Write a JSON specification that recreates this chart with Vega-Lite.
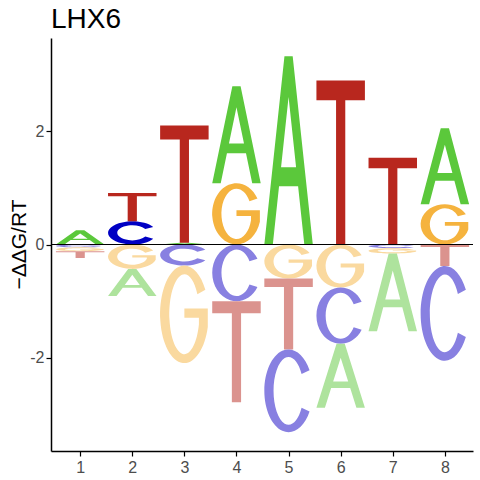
{
  "$schema": "https://vega.github.io/schema/vega-lite/v6.json",
  "width": 422,
  "height": 413,
  "autosize": {"type": "none"},
  "padding": {"left": 51, "top": 38, "right": 7, "bottom": 29},
  "title": {
    "text": "LHX6",
    "anchor": "start",
    "frame": "group",
    "font": "Liberation Sans",
    "fontSize": 28,
    "fontWeight": "normal",
    "color": "black",
    "baseline": "bottom",
    "offset": 9,
    "dy": 33
  },
  "config": {
    "view": {"stroke": null},
    "axis": {
      "grid": false,
      "domainColor": "black",
      "domainWidth": 1.5,
      "tickColor": "black",
      "tickWidth": 1.2,
      "tickSize": 5,
      "labelFont": "Liberation Sans",
      "labelFontSize": 16,
      "labelColor": "#4D4D4D",
      "titleFont": "Liberation Sans",
      "titleFontWeight": "normal",
      "titleColor": "black"
    }
  },
  "data": {
    "values": [
      {"pos": 1, "letter": "A", "ddg": 0.25, "rank": 1, "id": "1A"},
      {"pos": 1, "letter": "C", "ddg": -0.05, "rank": 1, "id": "1C"},
      {"pos": 1, "letter": "G", "ddg": -0.07, "rank": 2, "id": "1G"},
      {"pos": 1, "letter": "T", "ddg": -0.12, "rank": 3, "id": "1T"},
      {"pos": 2, "letter": "C", "ddg": 0.41, "rank": 1, "id": "2C"},
      {"pos": 2, "letter": "T", "ddg": 0.5, "rank": 2, "id": "2T"},
      {"pos": 2, "letter": "G", "ddg": -0.43, "rank": 1, "id": "2G"},
      {"pos": 2, "letter": "A", "ddg": -0.48, "rank": 2, "id": "2A"},
      {"pos": 3, "letter": "A", "ddg": 0.03, "rank": 1, "id": "3A"},
      {"pos": 3, "letter": "T", "ddg": 2.07, "rank": 2, "id": "3T"},
      {"pos": 3, "letter": "C", "ddg": -0.37, "rank": 1, "id": "3C"},
      {"pos": 3, "letter": "G", "ddg": -1.72, "rank": 2, "id": "3G"},
      {"pos": 4, "letter": "G", "ddg": 1.08, "rank": 1, "id": "4G"},
      {"pos": 4, "letter": "A", "ddg": 1.71, "rank": 2, "id": "4A"},
      {"pos": 4, "letter": "C", "ddg": -1.0, "rank": 1, "id": "4C"},
      {"pos": 4, "letter": "T", "ddg": -1.78, "rank": 2, "id": "4T"},
      {"pos": 5, "letter": "A", "ddg": 3.32, "rank": 1, "id": "5A"},
      {"pos": 5, "letter": "G", "ddg": -0.6, "rank": 1, "id": "5G"},
      {"pos": 5, "letter": "T", "ddg": -1.25, "rank": 2, "id": "5T"},
      {"pos": 5, "letter": "C", "ddg": -1.46, "rank": 3, "id": "5C"},
      {"pos": 6, "letter": "T", "ddg": 2.89, "rank": 1, "id": "6T"},
      {"pos": 6, "letter": "G", "ddg": -0.76, "rank": 1, "id": "6G"},
      {"pos": 6, "letter": "C", "ddg": -0.99, "rank": 2, "id": "6C"},
      {"pos": 6, "letter": "A", "ddg": -1.13, "rank": 3, "id": "6A"},
      {"pos": 7, "letter": "T", "ddg": 1.53, "rank": 1, "id": "7T"},
      {"pos": 7, "letter": "C", "ddg": -0.065, "rank": 1, "id": "7C"},
      {"pos": 7, "letter": "G", "ddg": -0.095, "rank": 2, "id": "7G"},
      {"pos": 7, "letter": "A", "ddg": -1.37, "rank": 3, "id": "7A"},
      {"pos": 8, "letter": "G", "ddg": 0.71, "rank": 1, "id": "8G"},
      {"pos": 8, "letter": "A", "ddg": 1.34, "rank": 2, "id": "8A"},
      {"pos": 8, "letter": "T", "ddg": -0.38, "rank": 1, "id": "8T"},
      {"pos": 8, "letter": "C", "ddg": -1.67, "rank": 2, "id": "8C"}
    ]
  },
  "layer": [
    {
      "transform": [
        {"stack": "ddg", "groupby": ["pos"], "sort": [{"field": "rank", "order": "ascending"}], "as": ["y0", "y1"]}
      ],
      "encoding": {
        "x": {
          "field": "pos",
          "type": "quantitative",
          "scale": {"domain": [0.44, 8.54], "nice": false, "zero": false},
          "axis": {"title": null, "values": [1, 2, 3, 4, 5, 6, 7, 8], "labelPadding": 3}
        },
        "y": {
          "field": "y0",
          "type": "quantitative",
          "scale": {"domain": [-3.64, 3.64], "nice": false, "zero": false},
          "axis": {
            "title": "−ΔΔG/RT",
            "titleFontSize": 21,
            "titleAngle": -90,
            "titleAlign": "center",
            "titleBaseline": "alphabetic",
            "titleX": -26,
            "titleY": 206,
            "values": [-2, 0, 2],
            "labelExpr": "'' + datum.value",
            "labelPadding": 2
          }
        },
        "shape": {
          "field": "id",
          "type": "nominal",
          "legend": null,
          "scale": {
            "domain": ["1A", "1C", "1G", "1T", "2C", "2T", "2G", "2A", "3A", "3T", "3C", "3G", "4G", "4A", "4C", "4T", "5A", "5G", "5T", "5C", "6T", "6G", "6C", "6A", "7T", "7C", "7G", "7A", "8G", "8A", "8T", "8C"],
            "range": [
              "M-1,0L-0.17,-0.585L0.17,-0.585L1,0L0.65,0L0.393,-0.181L-0.393,-0.181L-0.65,0ZM0,-0.458L-0.31,-0.24L0.31,-0.24Z",
              "M0.866,0.029A1,0.0585,0,1,0,0.866,0.088L0.537,0.075A0.62,0.032,0,1,1,0.537,0.042Z",
              "M0.866,0.041A1,0.082,0,1,0,0.966,0.103L0.966,0.072L0,0.072L0,0.088L0.6,0.088L0.6,0.093A0.62,0.045,0,1,1,0.537,0.059Z",
              "M-1,0L1,0L1,0.034L0.19,0.034L0.19,0.28L-0.19,0.28L-0.19,0.034L-1,0.034Z",
              "M0.866,-0.72A1,0.48,0,1,0,0.866,-0.24L0.537,-0.325A0.62,0.31,0,1,1,0.537,-0.635Z",
              "M-1,-1.17L1,-1.17L1,-1.03L0.19,-1.03L0.19,0L-0.19,0L-0.19,-1.03L-1,-1.03Z",
              "M0.866,0.252A1,0.503,0,1,0,0.966,0.633L0.966,0.443L0,0.443L0,0.538L0.6,0.538L0.6,0.587A0.62,0.333,0,1,1,0.537,0.337Z",
              "M-1,1.123L-0.17,0L0.17,0L1,1.123L0.65,1.123L0.393,0.775L-0.393,0.775L-0.65,1.123ZM0,0.244L-0.31,0.663L0.31,0.663Z",
              "M-1,0L-0.17,-0.07L0.17,-0.07L1,0L0.65,0L0.393,-0.022L-0.393,-0.022L-0.65,0ZM0,-0.055L-0.31,-0.029L0.31,-0.029Z",
              "M-1,-4.844L1,-4.844L1,-4.263L0.19,-4.263L0.19,0L-0.19,0L-0.19,-4.263L-1,-4.263Z",
              "M0.866,0.217A1,0.433,0,1,0,0.866,0.65L0.537,0.565A0.62,0.263,0,1,1,0.537,0.302Z",
              "M0.866,1.006A1,2.012,0,1,0,0.966,2.533L0.966,1.771L0,1.771L0,2.153L0.6,2.153L0.6,2.428A0.62,1.65,0,1,1,0.537,1.187Z",
              "M0.866,-1.896A1,1.264,0,1,0,0.966,-0.937L0.966,-1.416L0,-1.416L0,-1.176L0.6,-1.176L0.6,-1.003A0.62,1.037,0,1,1,0.537,-1.782Z",
              "M-1,0L-0.17,-4L0.17,-4L1,0L0.65,0L0.393,-1.24L-0.393,-1.24L-0.65,0ZM0,-3.132L-0.31,-1.64L0.31,-1.64Z",
              "M0.866,0.585A1,1.17,0,1,0,0.866,1.755L0.537,1.65A0.62,0.959,0,1,1,0.537,0.69Z",
              "M-1,0L1,0L1,0.5L0.19,0.5L0.19,4.166L-0.19,4.166L-0.19,0.5L-1,0.5Z",
              "M-1,0L-0.17,-7.768L0.17,-7.768L1,0L0.65,0L0.393,-2.408L-0.393,-2.408L-0.65,0ZM0,-6.082L-0.31,-3.185L0.31,-3.185Z",
              "M0.866,0.351A1,0.702,0,1,0,0.966,0.884L0.966,0.618L0,0.618L0,0.751L0.6,0.751L0.6,0.836A0.62,0.532,0,1,1,0.537,0.436Z",
              "M-1,0L1,0L1,0.351L0.19,0.351L0.19,2.925L-0.19,2.925L-0.19,0.351L-1,0.351Z",
              "M0.866,0.854A1,1.708,0,1,0,0.866,2.562L0.537,2.409A0.62,1.401,0,1,1,0.537,1.008Z",
              "M-1,-6.762L1,-6.762L1,-5.951L0.19,-5.951L0.19,0L-0.19,0L-0.19,-5.951L-1,-5.951Z",
              "M0.866,0.445A1,0.889,0,1,0,0.966,1.119L0.966,0.782L0,0.782L0,0.951L0.6,0.951L0.6,1.07A0.62,0.719,0,1,1,0.537,0.53Z",
              "M0.866,0.579A1,1.158,0,1,0,0.866,1.737L0.537,1.633A0.62,0.95,0,1,1,0.537,0.683Z",
              "M-1,2.644L-0.17,0L0.17,0L1,2.644L0.65,2.644L0.393,1.824L-0.393,1.824L-0.65,2.644ZM0,0.574L-0.31,1.56L0.31,1.56Z",
              "M-1,-3.58L1,-3.58L1,-3.15L0.19,-3.15L0.19,0L-0.19,0L-0.19,-3.15L-1,-3.15Z",
              "M0.866,0.038A1,0.076,0,1,0,0.866,0.114L0.537,0.097A0.62,0.042,0,1,1,0.537,0.055Z",
              "M0.866,0.056A1,0.111,0,1,0,0.966,0.14L0.966,0.098L0,0.098L0,0.119L0.6,0.119L0.6,0.126A0.62,0.061,0,1,1,0.537,0.081Z",
              "M-1,3.206L-0.17,0L0.17,0L1,3.206L0.65,3.206L0.393,2.212L-0.393,2.212L-0.65,3.206ZM0,0.696L-0.31,1.892L0.31,1.892Z",
              "M0.866,-1.247A1,0.831,0,1,0,0.966,-0.616L0.966,-0.931L0,-0.931L0,-0.773L0.6,-0.773L0.6,-0.664A0.62,0.661,0,1,1,0.537,-1.162Z",
              "M-1,0L-0.17,-3.136L0.17,-3.136L1,0L0.65,0L0.393,-0.972L-0.393,-0.972L-0.65,0ZM0,-2.455L-0.31,-1.286L0.31,-1.286Z",
              "M-1,0L1,0L1,0.107L0.19,0.107L0.19,0.889L-0.19,0.889L-0.19,0.107L-1,0.107Z",
              "M0.866,0.977A1,1.954,0,1,0,0.866,2.931L0.537,2.755A0.62,1.602,0,1,1,0.537,1.153Z"
            ]
          }
        }
      },
      "layer": [
        {
          "transform": [{"filter": "datum.ddg > 0"}],
          "mark": {"type": "point", "filled": true, "opacity": 1, "size": 2350, "strokeWidth": 0},
          "encoding": {
            "color": {
              "field": "letter",
              "type": "nominal",
              "legend": null,
              "scale": {"domain": ["A", "C", "G", "T"], "range": ["#5BC83B", "#0000C4", "#F5B33E", "#B8271E"]}
            }
          }
        },
        {
          "transform": [{"filter": "datum.ddg < 0"}],
          "mark": {"type": "point", "filled": true, "opacity": 1, "size": 2350, "strokeWidth": 0},
          "encoding": {
            "color": {
              "field": "letter",
              "type": "nominal",
              "legend": null,
              "scale": {"domain": ["A", "C", "G", "T"], "range": ["#AEE39D", "#8880E1", "#FAD99F", "#DB938E"]}
            }
          }
        }
      ],
      "resolve": {"scale": {"color": "independent"}}
    },
    {
      "data": {"values": [{}]},
      "mark": {"type": "rule", "color": "black", "strokeWidth": 1},
      "encoding": {"y": {"datum": 0}}
    }
  ]
}
